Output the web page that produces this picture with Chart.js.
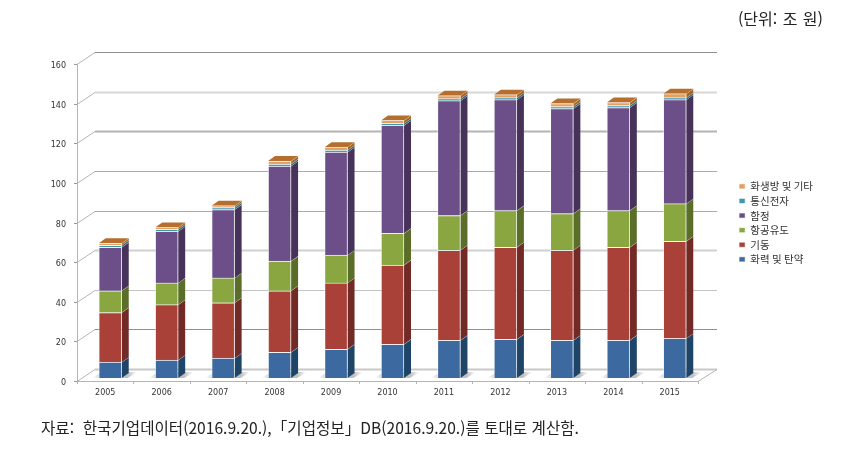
<!DOCTYPE html>
<html lang="ko">
<head>
<meta charset="utf-8">
<title>방산 매출</title>
<script src="https://cdn.jsdelivr.net/npm/chart.js@4"></script>
<style>
  html, body { margin: 0; padding: 0; background: #fff; }
  #wrap { position: relative; width: 855px; height: 457px; overflow: hidden; }
  canvas { position: absolute; left: 0; top: 0; }
  .note { position: absolute; font-family: "Noto Sans CJK KR", sans-serif; color: #222; white-space: nowrap; }
  #unit { right: 32px; top: 6px; font-size: 16px; word-spacing: 1px; }
  #source { left: 41px; top: 416px; font-size: 15.6px; }
</style>
</head>
<body>
<div id="wrap">
  <canvas id="chart" width="855" height="457"></canvas>
  <div class="note" id="unit">(단위: 조 원)</div>
  <div class="note" id="source">자료:&nbsp; 한국기업데이터(2016.9.20.),「기업정보」DB(2016.9.20.)를 토대로 계산함.</div>
</div>
<script>
// values
const years = ['2005', '2006', '2007', '2008', '2009', '2010', '2011', '2012', '2013', '2014', '2015'];
const firepower = [8, 9, 10, 13, 14.5, 17, 19, 19.5, 19, 19, 20];
const maneuver = [25, 28, 28, 31, 33.5, 40, 45.5, 46.5, 45.5, 47, 49];
const aerospace = [11, 11, 12.5, 15, 14, 16, 17.5, 18.5, 18.5, 18.5, 19];
const naval = [22, 26, 34.5, 48, 52, 54.5, 58, 56, 53, 52, 52.5];
const comms = [1, 1, 1, 1, 1, 1, 1, 1, 1, 1, 1];
const cbrn = [1, 1, 1, 1.5, 1.5, 1.5, 1.5, 1.5, 1.5, 1.5, 2];

// front face colour, side face colour
const colors = {
    firepower: ['#3c699f', '#1e4468'],
    maneuver: ['#aa4139', '#722a26'],
    aerospace: ['#8aa640', '#5a6e2a'],
    naval: ['#6c4f89', '#47335a'],
    comms: ['#3e97af', '#25687b'],
    cbrn: ['#e2a063', '#a8641f']
};

// the scan leaves the wall lines uneven, from 0 up to 160
const gridColors = ['#c8c8c8', '#8e8e8e', '#c4c4c4', '#d0d0d0', '#aaaaaa', '#aaaaaa', '#b4b4b4', '#d8d8d8', '#8c8c8c'];
const gridWidths = [2, 1, 1, 2, 1, 1, 2, 2, 1];

const makeSet = (label, data, key) => ({
    label: label,
    data: data,
    backgroundColor: colors[key][0],
    sideColor: colors[key][1],
    borderColor: 'rgba(255,255,255,0.5)',
    borderWidth: 1
});

// bars stand a little inside the box: depth from bar to back wall and bar to front edge
const wallDx = 13, wallDy = -9;
const frontDx = -5, frontDy = 3;
const barDx = 7, barDy = -5;

const box3d = {
    id: 'box3d',
    afterLayout(chart) {
        // put the legend where it sits in the picture
        const lg = chart.legend;
        lg.left = 735; lg.right = 735 + lg.width;
        lg.top = 177; lg.bottom = 177 + lg.height;
    },
    beforeDatasetsDraw(chart) {
        const c = chart.ctx, x = chart.scales.x, y = chart.scales.y;
        const area = chart.chartArea;
        const fl = area.left + frontDx, fr = area.right + frontDx;
        const bl = area.left + wallDx, br = area.right + wallDx + 1;
        c.save();

        // wall grid lines, with the short diagonal on the side wall
        y.ticks.forEach((t, i) => {
            const py = Math.round(y.getPixelForValue(t.value));
            c.lineWidth = 1;
            c.strokeStyle = '#b4b4b4';
            c.beginPath();
            c.moveTo(fl, py + frontDy + 0.5);
            c.lineTo(bl, py + wallDy + 0.5);
            c.stroke();
            c.lineWidth = gridWidths[i];
            c.strokeStyle = gridColors[i];
            c.beginPath();
            c.moveTo(bl, py + wallDy + 0.5);
            c.lineTo(br, py + wallDy + 0.5);
            c.stroke();
            c.lineWidth = 1;
            c.strokeStyle = '#999';
            c.beginPath();
            c.moveTo(fl - 3, py + frontDy + 0.5);
            c.lineTo(fl, py + frontDy + 0.5);
            c.stroke();
        });

        // floor
        const by = Math.round(y.getPixelForValue(0));
        c.strokeStyle = '#b4b4b4';
        c.beginPath();
        c.moveTo(fl + 0.5, Math.round(y.getPixelForValue(160)) + frontDy);
        c.lineTo(fl + 0.5, by + frontDy + 0.5);
        c.lineTo(fr, by + frontDy + 0.5);
        c.lineTo(br, by + wallDy + 0.5);
        c.stroke();

        // ticks between categories
        const step = x.getPixelForValue(1) - x.getPixelForValue(0);
        years.forEach((yr, i) => {
            const tx = Math.round(x.getPixelForValue(i) - step / 2 + frontDx) + 0.5;
            c.beginPath();
            c.moveTo(tx, by + frontDy);
            c.lineTo(tx, by + frontDy + 3);
            c.stroke();
        });
        c.beginPath();
        c.moveTo(fr + 0.5, by + frontDy);
        c.lineTo(fr + 0.5, by + frontDy + 3);
        c.stroke();

        // shadow, sides and tops of the stacks
        const metas = chart.getSortedVisibleDatasetMetas();
        metas[0].data.forEach(bar => {
            const xr = bar.x + bar.width / 2, xl = bar.x - bar.width / 2;
            const g = c.createLinearGradient(xl - 6, 0, xr + 15, 0);
            g.addColorStop(0, 'rgba(170,170,170,0)');
            g.addColorStop(0.25, 'rgba(170,170,170,0.75)');
            g.addColorStop(0.8, 'rgba(170,170,170,0.75)');
            g.addColorStop(1, 'rgba(170,170,170,0)');
            c.fillStyle = g;
            c.beginPath();
            c.moveTo(xl - 7, by);
            c.lineTo(xr + 6, by);
            c.lineTo(xr + 16, by - 6);
            c.lineTo(xl + 3, by - 6);
            c.closePath();
            c.fill();
        });
        metas.forEach((meta, m) => {
            const side = chart.data.datasets[meta.index].sideColor;
            meta.data.forEach(bar => {
                const xr = bar.x + bar.width / 2;
                c.fillStyle = side;
                c.beginPath();
                c.moveTo(xr, bar.base);
                c.lineTo(xr + barDx, bar.base + barDy);
                c.lineTo(xr + barDx, bar.y + barDy);
                c.lineTo(xr, bar.y);
                c.closePath();
                c.fill();
                c.strokeStyle = 'rgba(255,255,255,0.6)';
                c.lineWidth = 1;
                c.beginPath();
                c.moveTo(xr, bar.y);
                c.lineTo(xr + barDx, bar.y + barDy);
                c.stroke();
                if (m === metas.length - 1) {
                    const xl = bar.x - bar.width / 2;
                    c.fillStyle = '#b56e2e';
                    c.beginPath();
                    c.moveTo(xl, bar.y);
                    c.lineTo(xl + barDx, bar.y + barDy);
                    c.lineTo(xr + barDx, bar.y + barDy);
                    c.lineTo(xr, bar.y);
                    c.closePath();
                    c.fill();
                }
            });
        });
        c.restore();
    }
};

new Chart(document.getElementById('chart'), {
    type: 'bar',
    data: {
        labels: years,
        datasets: [
            makeSet('화력 및 탄약', firepower, 'firepower'),
            makeSet('기동', maneuver, 'maneuver'),
            makeSet('항공유도', aerospace, 'aerospace'),
            makeSet('함정', naval, 'naval'),
            makeSet('통신전자', comms, 'comms'),
            makeSet('화생방 및 기타', cbrn, 'cbrn')
        ]
    },
    options: {
        responsive: false,
        animation: false,
        layout: { padding: { left: 0, right: 152, top: 61, bottom: 0 } },
        datasets: { bar: { barThickness: 23 } },
        plugins: {
            tooltip: { enabled: false },
            legend: {
                position: 'chartArea',
                align: 'start',
                reverse: true,
                labels: {
                    boxWidth: 6,
                    boxHeight: 5,
                    padding: 4.1,
                    color: '#333',
                    font: { family: '"Noto Sans CJK KR", sans-serif', size: 10.5 }
                }
            }
        },
        scales: {
            x: {
                stacked: true,
                grid: { display: false },
                border: { display: false },
                afterFit(scale) { scale.height = 79; },
                ticks: {
                    labelOffset: -5,
                    padding: 2,
                    maxRotation: 0,
                    color: '#333',
                    font: { family: '"DejaVu Sans", sans-serif', size: 8 }
                }
            },
            y: {
                stacked: true,
                min: 0,
                max: 160,
                grid: { display: false },
                border: { display: false },
                afterFit(scale) { scale.width = 82; },
                ticks: {
                    stepSize: 20,
                    labelOffset: 5,
                    padding: 8,
                    color: '#333',
                    font: { family: '"DejaVu Sans", sans-serif', size: 8 }
                }
            }
        }
    },
    plugins: [box3d]
});
</script>
</body>
</html>
